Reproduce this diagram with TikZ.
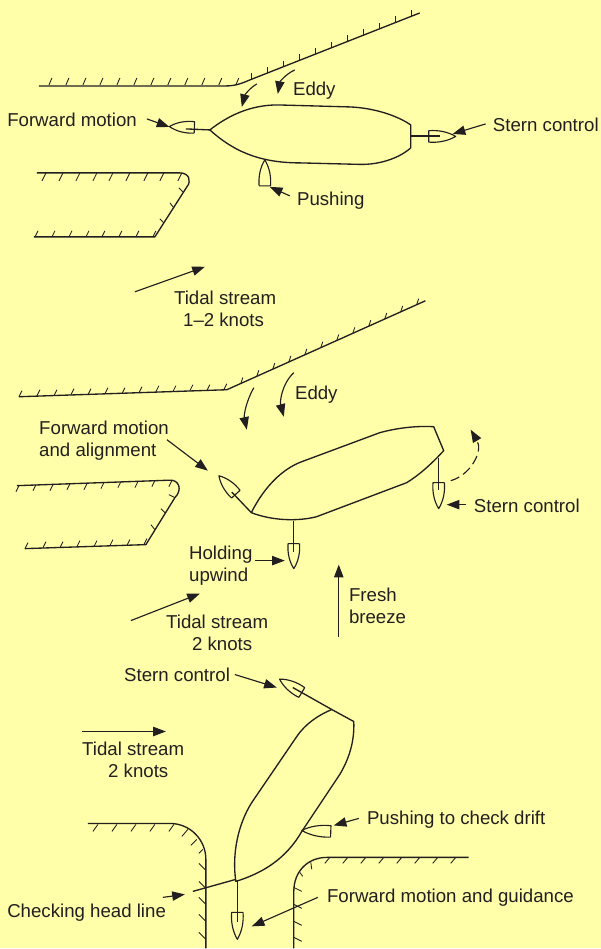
\documentclass[tikz,border=0pt]{standalone}
\usepackage{fontspec}
\setmainfont{Liberation Sans}
\usetikzlibrary{arrows.meta}
\definecolor{bg}{HTML}{FFFFA9}
\definecolor{ink}{HTML}{231F20}
\newcommand{\tug}[4]{\begin{scope}[shift={(#1,#2)},rotate=#3,xscale=#4/25]
\draw[hull,line width=0.85pt] (0,-5.7) -- (0,5.7) .. controls (9,6.5) and (18,4.5) .. (25,0) .. controls (18,-4.5) and (9,-6.5) .. (0,-5.7);
\end{scope}}
\newcommand{\hatches}[1]{\foreach \xa/\ya/\xb/\yb in {#1} {\draw[hatch] (\xa,\ya) -- (\xb,\yb);}}
\tikzset{
 hull/.style={draw=ink,line width=1pt,line join=round},
 hatch/.style={draw=ink,line width=0.65pt},
 arrowline/.style={draw=ink,line width=0.85pt,-{Triangle[length=9.5pt,width=7pt]}},
 lab/.style={text=ink,inner sep=0pt,font=\fontsize{14}{16.5}\selectfont,anchor=base west,yshift=-1.1pt},
}
\begin{document}
\begin{tikzpicture}[x=0.75pt,y=-0.75pt]
\fill[bg] (0,0) rectangle (601,949);
% --- panel 1 banks
\draw[hull] (39,86) -- (226,86) .. controls (236,86) and (243,83) .. (250,80) -- (420,13);
\foreach \x in {49,66,83,100,117,134,151,168,185,202,219,236} {\draw[hatch] (\x,85) -- ({\x+3},78);}
\foreach \x in {252,268,284,300,316,332,348,364,380,396,412} {\draw[hatch] (\x,{80-(\x-250)*0.394}) -- (\x,{74-(\x-250)*0.394});}
\draw[hull] (37,173) -- (180,173) .. controls (189,173) and (192,181) .. (187,187) -- (155,237) -- (34,237);
\foreach \x in {46,63,80,97,113,130,148,164,182} {\draw[hatch] (\x,173) -- ({\x-4},181);}
\hatches{183/192/179/188,174/208/170/203,164/223/160/219}
\foreach \x in {35,52,69,86,102,119,136,153} {\draw[hatch] (\x,237) -- ({\x+3},231);}
% panel 1 ship
\draw[hull] (210,130) .. controls (228,116) and (250,105) .. (278,105) -- (350,107) .. controls (375,108) and (398,116) .. (411,125) -- (411,148) .. controls (400,158) and (380,165) .. (360,164.5) -- (300,163) .. controls (258,163) and (232,150) .. (210,130) -- cycle;
\draw[hull] (186,129) -- (210,130);
\draw[hull] (411,136) -- (440,136);
\tug{194.5}{127.5}{178}{25}
\tug{429}{136.5}{0}{27}
\tug{265}{186}{90}{26}
% --- panel 2 banks
\draw[hull] (19,397) -- (227,390) -- (425.7,301);
\foreach \x/\y in {19/397,37/396,54/396,71/395,88/395,105/394,122/394,139/393,156/392,173/392,190/391,207/391,224/390} {\draw[hatch] (\x,\y) -- ({\x+3},{\y-6});}
\foreach \x in {241,257,273,289,305,321,337,353,369,385,401,417} {\draw[hatch] (\x,{390-(\x-227)*0.4477}) -- ({\x+2},{384-(\x-227)*0.4477});}
\draw[hull] (17,486) -- (170,480.5) .. controls (179,480) and (183,490) .. (175,498) -- (146,545) -- (25,549);
\foreach \x/\y in {19/486,36/485,53/485,70/484,87/484,104/483,121/482,138/482,155/481,172/481} {\draw[hatch] (\x,\y) -- ({\x-3},{\y+6});}
\hatches{175/498/169/495,165/513/161/509,155/530/151/525}
\foreach \x/\y in {25/549,43/548,60/548,77/547,94/547,110/546,127/546,144/545} {\draw[hatch] (\x,\y) -- ({\x+3},{\y-6});}
% panel 2 ship
\draw[hull] (251.5,513) .. controls (264,488) and (282,469.4) .. (302,462) -- (380,433) .. controls (398,428) and (418,426) .. (434,427) -- (444,451) .. controls (432,464) and (420,475) .. (407,483) -- (317,517) .. controls (298,522) and (272,521) .. (251.5,513) -- cycle;
\draw[hull] (251.5,513) -- (232,492.5);
\draw[hull] (294,521) -- (294,552);
\draw[hull] (439,458) -- (439,490);
\tug{236}{494.5}{132.6}{25}
\tug{294}{544}{-90}{25}
\tug{439}{483}{-90}{26}
% --- panel 3 banks
\draw[hull] (88,824) -- (170,824) .. controls (190,824) and (206,840) .. (206,860) -- (206,949);
\hatches{117/825/112/832,98/825/93/832,136/825/131/832,155/825/150/832,174/825/169/832,188/830/182/837,197/840/191/846,203/850/199/854}
\foreach \y in {871,889,905,922,940} {\draw[hatch] (206,\y) -- (199,{\y-7});}
\draw[hull] (469,858) -- (327,858) .. controls (308,858) and (294,872) .. (294,892) -- (294,949);
\foreach \x in {330,348,366,384,402,420,438,456} {\draw[hatch] (\x,858) -- ({\x-5},864);}
\hatches{311/863/312/870,300/873/303/877,294/888/302/892,294/905/302/909,294/922/302/926,294/938/302/942}
% panel 3 ship
\draw[hull] (332,710) -- (354,722) .. controls (355,742) and (349,760) .. (340,775) -- (302,832) .. controls (286,860) and (262,874) .. (236,882) .. controls (232,855) and (238,825) .. (252,803) -- (297,737) .. controls (306,724) and (318,716) .. (332,710);
\draw[hull] (293,688) -- (332,710);
\draw[hull] (236,880) -- (193,892);
\draw[hull] (237.5,882) -- (237.5,923);
\tug{302}{693}{149}{26}
\tug{331}{832}{178}{29}
\tug{237.5}{913}{-90}{27}
% --- labels
\node[lab] (l1) at (7,125) {Forward motion};
\node[lab] (l2) at (293,94) {Eddy};
\node[lab] (l3) at (493,130) {Stern control};
\node[lab] (l4) at (297,204) {Pushing};
\node[lab] (l5) at (174,303) {Tidal stream};
\node[lab] (l6) at (183,325) {1–2 knots};
\node[lab] (l7) at (39,433) {Forward motion};
\node[lab] (l8) at (39,455) {and alignment};
\node[lab] (l9) at (295,398) {Eddy};
\node[lab] (l10) at (474,511) {Stern control};
\node[lab] (l11) at (189,558) {Holding};
\node[lab] (l12) at (189,580) {upwind};
\node[lab] (l13) at (166,627) {Tidal stream};
\node[lab] (l14) at (192,649) {2 knots};
\node[lab] (l15) at (349,600) {Fresh};
\node[lab] (l16) at (349,622) {breeze};
\node[lab] (l17) at (124,681) {Stern control};
\node[lab] (l18) at (82,755) {Tidal stream};
\node[lab] (l19) at (108,777) {2 knots};
\node[lab] (l20) at (367,824) {Pushing to check drift};
\node[lab] (l21) at (7,917) {Checking head line};
\node[lab] (l22) at (327,902) {Forward motion and guidance};
% --- arrows
\coordinate (a1s) at (147,119); \coordinate (a1e) at (169.5,127);
\coordinate (a2s) at (486,124); \coordinate (a2e) at (453,134);
\coordinate (a3s) at (290,196); \coordinate (a3e) at (270,187);
\coordinate (a4s) at (135,292); \coordinate (a4e) at (205,267);
\coordinate (a5s) at (257,84);  \coordinate (a5e) at (242,107);
\coordinate (a6s) at (295,70);  \coordinate (a6e) at (278,94);
\coordinate (b1s) at (254,388); \coordinate (b1e) at (247,430);
\coordinate (b2s) at (294,373); \coordinate (b2e) at (284,417);
\coordinate (b3s) at (167,440); \coordinate (b3e) at (208,471);
\coordinate (b4s) at (255,561); \coordinate (b4e) at (285,561);
\coordinate (b5s) at (466,505); \coordinate (b5e) at (447,505);
\coordinate (b6s) at (451,481); \coordinate (b6e) at (471,430);
\coordinate (b7s) at (131,621); \coordinate (b7e) at (200,594);
\coordinate (b8s) at (339,637); \coordinate (b8e) at (339,565);
\coordinate (c1s) at (235,675); \coordinate (c1e) at (277,688);
\coordinate (c2s) at (82,732);  \coordinate (c2e) at (166,732);
\coordinate (c3s) at (359,819); \coordinate (c3e) at (334,826);
\coordinate (c4s) at (163,898); \coordinate (c4e) at (185,895);
\coordinate (c5s) at (318,898); \coordinate (c5e) at (252,927);
\draw[arrowline] (a1s) -- (a1e);
\draw[arrowline] (a2s) -- (a2e);
\draw[arrowline] (a3s) -- (a3e);
\draw[arrowline] (a4s) -- (a4e);
\draw[arrowline] (a5s) .. controls (250,88) and (245,95) .. (a5e);
\draw[arrowline] (a6s) .. controls (286,74) and (280,82) .. (a6e);
\draw[arrowline] (b1s) .. controls (246,402) and (244,416) .. (b1e);
\draw[arrowline] (b2s) .. controls (282,384) and (280,402) .. (b2e);
\draw[arrowline] (b3s) -- (b3e);
\draw[arrowline] (b4s) -- (b4e);
\draw[arrowline] (b5s) -- (b5e);
\draw[arrowline,dash pattern=on 7pt off 3.5pt] (b6s) .. controls (470,476) and (484,452) .. (b6e);
\draw[arrowline] (b7s) -- (b7e);
\draw[arrowline] (b8s) -- (b8e);
\draw[arrowline] (c1s) -- (c1e);
\draw[arrowline] (c2s) -- (c2e);
\draw[arrowline] (c3s) -- (c3e);
\draw[arrowline] (c4s) -- (c4e);
\draw[arrowline] (c5s) -- (c5e);
\end{tikzpicture}
\end{document}
